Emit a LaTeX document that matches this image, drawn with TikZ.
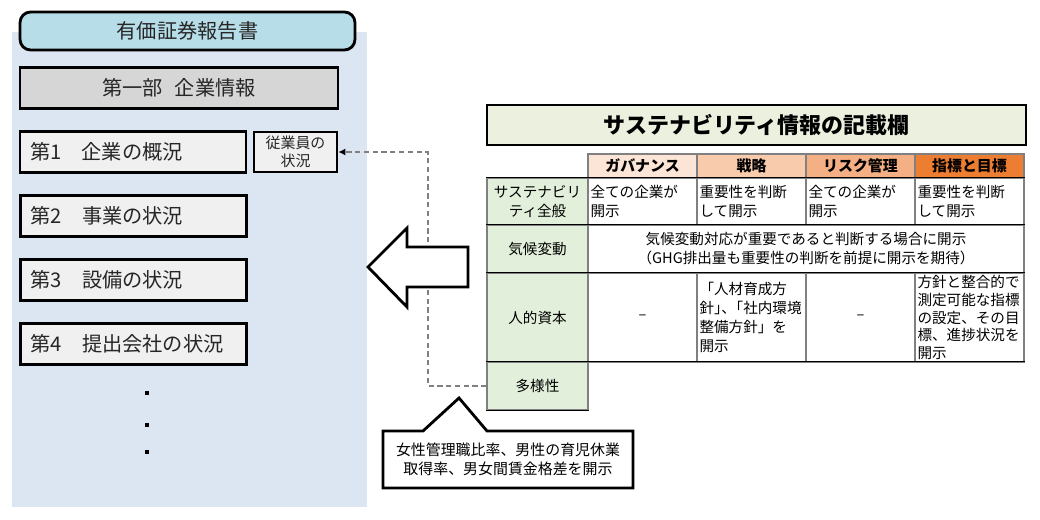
\documentclass[tikz,border=0pt]{standalone}
\usepackage{fontspec}
\setmainfont{Noto Sans CJK JP}
\usetikzlibrary{positioning,arrows.meta}

\definecolor{panelblue}{HTML}{DCE6F2}
\definecolor{titlecyan}{HTML}{B7DEE8}
\definecolor{bugray}{HTML}{D6D6D6}
\definecolor{secgray}{HTML}{F0F0F0}
\definecolor{titlegreen}{HTML}{EBF0DF}
\definecolor{rowgreen}{HTML}{E2EFDA}
\definecolor{hdone}{HTML}{FCE4D6}
\definecolor{hdtwo}{HTML}{F8CBAD}
\definecolor{hdthree}{HTML}{F4B084}
\definecolor{hdfour}{HTML}{ED7D31}
\definecolor{cellgray}{HTML}{808080}

\begin{document}
\begin{tikzpicture}[x=0.02cm, y=-0.02cm, thick,
    bigbox/.style={draw, line width=1.6pt, minimum height=0.82cm, text=black!85, font=\fontsize{11.5}{14}\selectfont},
    secbox/.style={bigbox, fill=secgray, text width=4.12cm, inner xsep=0.2cm, align=left},
    dotmark/.style={fill=black, inner sep=0pt, minimum size=0.07cm},
    hdr/.style={draw=cellgray, line width=0.6pt, minimum width=2.18cm, minimum height=0.48cm, inner sep=0pt, font=\bfseries\fontsize{8.5}{10}\selectfont},
    rowlab/.style={draw=cellgray, line width=0.6pt, fill=rowgreen, minimum width=2.02cm, inner sep=0pt, align=center, font=\fontsize{8.3}{10.8}\selectfont},
    cell/.style={draw=cellgray, line width=0.6pt, text width=2.08cm, inner xsep=0.05cm, inner ysep=0pt, align=left, font=\fontsize{8.3}{10.8}\selectfont},
    rowline/.style={line width=0.8pt, black},
    linkline/.style={densely dashed, cellgray, line width=0.7pt, -{Latex[length=4pt,width=4pt,color=black]}},
    bigarrow/.style={fill=white, line width=1.6pt, line join=miter},
    calloutline/.style={fill=white, line width=1.6pt, line join=miter}]

    \useasboundingbox (0,0) rectangle (1040,520);

    \fill[panelblue] (12,32) rectangle (367,507);

    \node[bigbox, rounded corners=6pt, fill=titlecyan, minimum width=6.7cm, minimum height=0.76cm] (yuho) at (187.5,31) {有価証券報告書};

    \node[bigbox, fill=bugray, minimum width=6.36cm] (bu) at (179,88) {第一部\hspace{0.6em}企業情報};

    \node[secbox] (sec1) at (133,152) {第1　企業の概況};
    \node[bigbox, fill=secgray, minimum width=1.66cm, minimum height=0.8cm, inner sep=1pt, align=center, font=\fontsize{8.5}{10.2}\selectfont] (jugyo) at (295.5,152) {従業員の\\状況};
    \node[secbox] (sec2) at (133.5,216) {第2　事業の状況};
    \node[secbox] (sec3) at (133.5,280) {第3　設備の状況};
    \node[secbox] (sec4) at (133.5,344) {第4　提出会社の状況};

    \foreach \y/\n in {393/1, 425/2, 452/3}
        \node[dotmark] (dot\n) at (147,\y) {};

    % table
    \node[bigbox, fill=titlegreen, text=black, minimum width=10.78cm, minimum height=0.8cm, font=\bfseries\fontsize{12.5}{15}\selectfont] (stitle) at (756.5,125) {サステナビリティ情報の記載欄};

    \node[hdr, fill=hdone] (h1) at (642.5,166) {ガバナンス};
    \node[hdr, fill=hdtwo] (h2) at (751.5,166) {戦略};
    \node[hdr, fill=hdthree] (h3) at (860.5,166) {リスク管理};
    \node[hdr, fill=hdfour] (h4) at (969.5,166) {指標と目標};

    \node[rowlab, minimum height=0.94cm] (r1) at (537.5,201.5) {サステナビリ\\ティ全般};
    \node[rowlab, minimum height=0.96cm] (r2) at (537.5,249) {気候変動};
    \node[rowlab, minimum height=1.78cm] (r3) at (537.5,317.5) {人的資本};
    \node[rowlab, minimum height=0.96cm] (r4) at (537.5,386) {多様性};

    \node[cell, minimum height=0.94cm] (c11) at (642.5,201.5) {全ての企業が\\開示};
    \node[cell, minimum height=0.94cm] (c12) at (751.5,201.5) {重要性を判断\\して開示};
    \node[cell, minimum height=0.94cm] (c13) at (860.5,201.5) {全ての企業が\\開示};
    \node[cell, minimum height=0.94cm] (c14) at (969.5,201.5) {重要性を判断\\して開示};

    \node[cell, text width=8.62cm, align=center, minimum height=0.96cm] (c2) at (806,249) {気候変動対応が重要であると判断する場合に開示\\（GHG排出量も重要性の判断を前提に開示を期待）};

    \node[cell, align=center, minimum height=1.78cm] (c31) at (642.5,317.5) {–};
    \node[cell, minimum height=1.78cm] (c32) at (751.5,317.5) {「人材育成方\\針」\kern-0.5em、\kern-0.5em「社内環境\\整備方針」を\\開示};
    \node[cell, align=center, minimum height=1.78cm] (c33) at (860.5,317.5) {–};
    \node[cell, minimum height=1.78cm, font=\fontsize{8.3}{10}\selectfont] (c34) at (969.5,317.5) {方針と整合的で\\測定可能な指標\\の設定、その目\\標、進捗状況を\\開示};

    \draw[rowline] (r1.north west) -- (c14.north east);
    \draw[rowline] (r2.north west) -- (c2.north east);
    \draw[rowline] (r3.north west) -- (r3.north west -| c2.east);
    \draw[rowline] (r4.north west) -- (r4.north west -| c2.east);
    \draw[rowline] (r4.south west) -- (r4.south east);

    % link to the left side
    \coordinate (bend) at (428,386);
    \draw[linkline] (r4.west) -- (bend) |- (jugyo.east);

    \draw[bigarrow] (368,267) -- (407,228) -- (407,247) -- (468,247) -- (468,287) -- (407,287) -- (407,307) -- cycle;

    \draw[calloutline] (383,431) -- (423,431) -- (459,398) -- (487,431) -- (633,431) -- (633,488) -- (383,488) -- cycle;
    \node[align=center, font=\fontsize{8.5}{10.8}\selectfont] (note) at (508,459.5) {女性管理職比率、男性の育児休業\\取得率、男女間賃金格差を開示};

\end{tikzpicture}
\end{document}
